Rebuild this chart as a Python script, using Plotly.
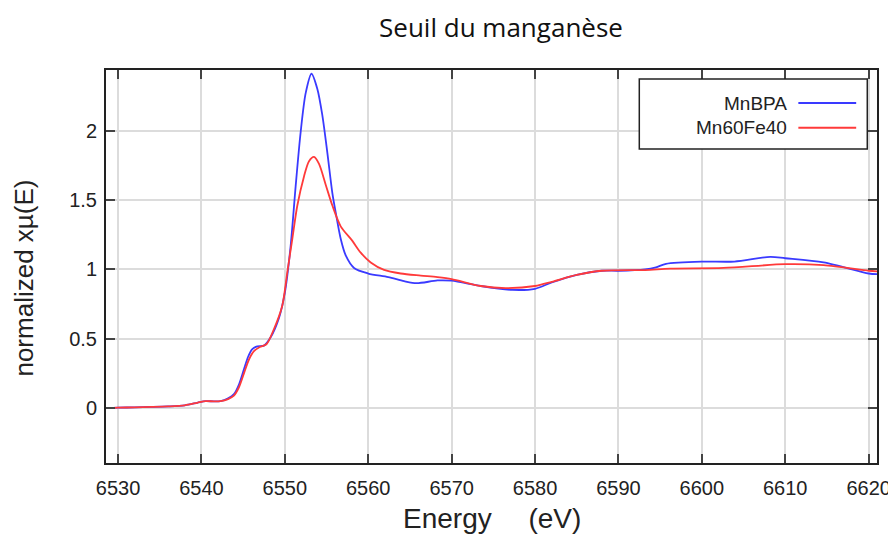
import plotly.graph_objects as go

# --- data ---
energy_mnbpa = [6528.6, 6530, 6532, 6534, 6536, 6538, 6539.5, 6540.5, 6541.5, 6542.3, 6543.2, 6543.9,
                6544.5, 6545.1, 6545.6, 6546.1, 6546.7, 6547.5, 6548.3, 6549.3, 6550, 6550.7, 6551.3,
                6551.9, 6552.5, 6553.2, 6553.9, 6554.5, 6555.1, 6555.7, 6556.1, 6556.7, 6557.3, 6558.3,
                6560, 6562.4, 6564.3, 6565.8, 6568.3, 6570, 6573.5, 6577.3, 6580, 6582, 6585, 6588,
                6590, 6593.2, 6594.5, 6595.7, 6600, 6603.9, 6608.2, 6610, 6614.6, 6620, 6621]
mu_mnbpa = [0.0, 0.003, 0.005, 0.008, 0.012, 0.02, 0.038, 0.05, 0.048, 0.05, 0.07, 0.10,
            0.17, 0.28, 0.37, 0.425, 0.445, 0.45, 0.51, 0.65, 0.83, 1.17, 1.60,
            1.99, 2.27, 2.41, 2.30, 2.11, 1.84, 1.55, 1.41, 1.22, 1.10, 1.01,
            0.97, 0.944, 0.915, 0.90, 0.92, 0.918, 0.88, 0.852, 0.86, 0.905, 0.96, 0.99,
            0.99, 1.0, 1.015, 1.04, 1.056, 1.056, 1.09, 1.08, 1.05, 0.97, 0.965]

energy_mn60fe40 = [6528.6, 6530, 6532, 6534, 6536, 6538, 6539.5, 6540.5, 6541.5, 6542.3, 6543.2, 6543.9,
                   6544.5, 6545.1, 6545.7, 6546.3, 6547, 6547.8, 6548.7, 6549.7, 6550.3, 6550.9, 6551.5,
                   6552.3, 6552.9, 6553.5, 6554.1, 6554.9, 6555.7, 6556.7, 6558.1, 6559.1, 6560.3,
                   6561.9, 6563.9, 6566.3, 6568.3, 6570, 6573.5, 6576.5, 6580, 6582, 6585, 6588,
                   6593.2, 6596.2, 6602.6, 6610, 6614.6, 6620, 6621]
mu_mn60fe40 = [0.0, 0.003, 0.005, 0.008, 0.012, 0.02, 0.038, 0.05, 0.048, 0.05, 0.065, 0.09,
               0.15, 0.25, 0.35, 0.41, 0.44, 0.46, 0.57, 0.74, 0.98, 1.22, 1.46,
               1.67, 1.78, 1.81, 1.76, 1.61, 1.46, 1.31, 1.205, 1.12, 1.05,
               0.996, 0.97, 0.955, 0.944, 0.93, 0.88, 0.865, 0.88, 0.91, 0.96, 0.99,
               0.995, 1.005, 1.01, 1.037, 1.03, 0.99, 0.985]

series_names = ["MnBPA", "Mn60Fe40"]
series_colors = ["#3a3aff", "#ff3a3a"]

x_ticks = [6530, 6540, 6550, 6560, 6570, 6580, 6590, 6600, 6610, 6620]
y_ticks = [0, 0.5, 1, 1.5, 2]
y_tick_labels = ["0", "0.5", "1", "1.5", "2"]

tick_font = dict(family="Liberation Sans, Arial, sans-serif", size=20, color="#222222")

fig = go.Figure()
fig.add_trace(go.Scatter(x=energy_mnbpa, y=mu_mnbpa, mode="lines", name=series_names[0],
                         line=dict(color=series_colors[0], width=1.8, shape="spline", smoothing=0.8)))
fig.add_trace(go.Scatter(x=energy_mn60fe40, y=mu_mn60fe40, mode="lines", name=series_names[1],
                         line=dict(color=series_colors[1], width=1.8, shape="spline", smoothing=0.8)))

axis_common = dict(showline=True, linecolor="#222222", linewidth=2, mirror="ticks",
                   ticks="inside", ticklen=9, tickwidth=2, tickcolor="#444444",
                   showgrid=True, gridcolor="#dcdcdc", gridwidth=1.5, zeroline=False,
                   tickfont=tick_font, automargin=False)

fig.update_xaxes(range=[6528.56, 6621.0], tickvals=x_ticks, ticklabelstandoff=6, **axis_common)
fig.update_yaxes(range=[-0.396, 2.437], tickvals=y_ticks, ticktext=y_tick_labels,
                 ticklabelstandoff=3, **axis_common)

# custom legend (text on the left, line sample on the right)
legend_box = dict(x0=0.6917, x1=0.9874, y0=0.7991, y1=0.9771)
legend_rows_y = [0.916, 0.853]
shapes = [dict(type="rect", xref="paper", yref="paper", **legend_box,
               line=dict(color="#222222", width=1.5), fillcolor="white", layer="above")]
annotations = []
for name, col, yy in zip(series_names, series_colors, legend_rows_y):
    shapes.append(dict(type="line", xref="paper", yref="paper", x0=0.898, x1=0.973, y0=yy, y1=yy,
                       line=dict(color=col, width=2), layer="above"))
    annotations.append(dict(text=name, xref="paper", yref="paper", x=0.886, y=yy,
                            xanchor="right", yanchor="middle", showarrow=False,
                            font=dict(family="Liberation Sans, Arial, sans-serif", size=19, color="#222222")))

# axis titles
annotations.append(dict(text="Energy\u00a0\u00a0\u00a0\u00a0\u2009(eV)", xref="paper", yref="paper",
                        x=0.5, y=-0.14, xanchor="center", yanchor="middle", showarrow=False,
                        font=dict(family="Liberation Sans, Arial, sans-serif", size=28, color="#222222")))
annotations.append(dict(text="normalized xµ(E)", xref="paper", yref="paper", textangle=-90,
                        x=-0.106, y=0.47, xanchor="center", yanchor="middle", showarrow=False,
                        font=dict(family="Liberation Sans, Arial, sans-serif", size=26, color="#222222")))

# the page body adds an 8px offset; the figure is sized to fill the rest of the window
fig.update_layout(
    width=888, height=527,
    margin=dict(l=98, r=19, t=62, b=72, autoexpand=False),
    paper_bgcolor="white", plot_bgcolor="white",
    showlegend=False,
    title=dict(text="Seuil du manganèse", x=493 / 888, xanchor="center", y=1 - 20 / 527,
               yanchor="middle", font=dict(family="Open Sans, sans-serif", size=26, color="#111111")),
    shapes=shapes, annotations=annotations,
)

fig.write_html("out.html")
